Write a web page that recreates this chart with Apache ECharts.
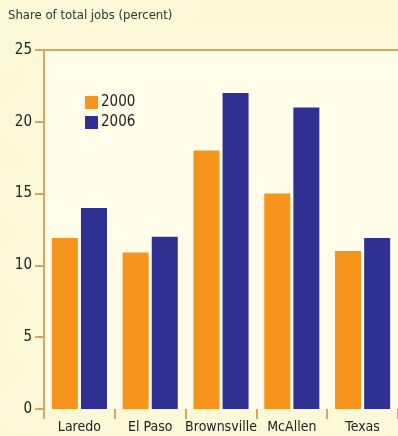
<!DOCTYPE html>
<html>
<head>
<meta charset="utf-8">
<script src="https://cdn.jsdelivr.net/npm/echarts@6/dist/echarts.min.js"></script>
<style>
  html, body { margin: 0; padding: 0; background: #fdf8d8; }
  #ChartDom { width: 398px; height: 436px; }
</style>
</head>
<body>
<div id="ChartDom"></div>
<script>
const categories = ["Laredo", "El Paso", "Brownsville", "McAllen", "Texas"]
const share2000 = [11.9, 10.9, 18.0, 15.0, 11.0]
const share2006 = [14.0, 12.0, 22.0, 21.0, 11.9]
const yTicks = [0, 5, 10, 15, 20, 25]

const axisColor = "#d6a763"
const textColor = "#222"
const font = "DejaVu Sans Condensed, Liberation Sans Narrow, sans-serif"

const chart = echarts.init(document.getElementById("ChartDom"))
chart.setOption({
  animation: false,
  backgroundColor: "#fdf8d8",
  color: ["#f7941d", "#2e3192"],
  title: {
    text: "Share of total jobs (percent)",
    left: 8, top: 9, padding: 0,
    textStyle: { color: "#333", fontSize: 13, fontWeight: "normal", fontFamily: font },
  },
  legend: {
    orient: "vertical",
    left: 85, top: 95, padding: 0,
    itemWidth: 13, itemHeight: 13, itemGap: 5,
    icon: "rect",
    textStyle: { color: textColor, fontSize: 15, fontFamily: font, padding: [0, 0, 0, -2] },
    data: ["2000", "2006"],
  },
  grid: {
    left: 44, top: 50, width: 358, height: 359,
    show: true, backgroundColor: "#fffce9", borderWidth: 0,
  },
  xAxis: [{
    type: "category",
    data: categories,
    axisLine: { show: false },
    axisTick: { show: true, interval: 0, length: 10, lineStyle: { color: axisColor, width: 2 } },
    axisLabel: { interval: 0, color: textColor, fontSize: 14, fontFamily: font, margin: 11 },
  }, {
    type: "category",
    position: "top",
    data: categories,
    axisLine: { show: true, lineStyle: { color: axisColor, width: 2 } },
    axisTick: { show: false },
    axisLabel: { show: false },
  }],
  yAxis: {
    type: "value",
    min: 0, max: 25, interval: 5,
    axisLine: { show: true, lineStyle: { color: axisColor, width: 2 } },
    axisTick: { show: true, length: 9, lineStyle: { color: axisColor, width: 2 } },
    splitLine: { show: false },
    axisLabel: {
      color: textColor, fontSize: 15, fontFamily: font, margin: 12,
      formatter: v => yTicks.includes(v) ? String(v) : "",
    },
  },
  series: [{
    name: "2000", type: "bar", barWidth: 26, barGap: "12%",
    data: share2000,
  }, {
    name: "2006", type: "bar", barWidth: 26, barGap: "12%",
    data: share2006,
  }],
})
</script>
</body>
</html>
